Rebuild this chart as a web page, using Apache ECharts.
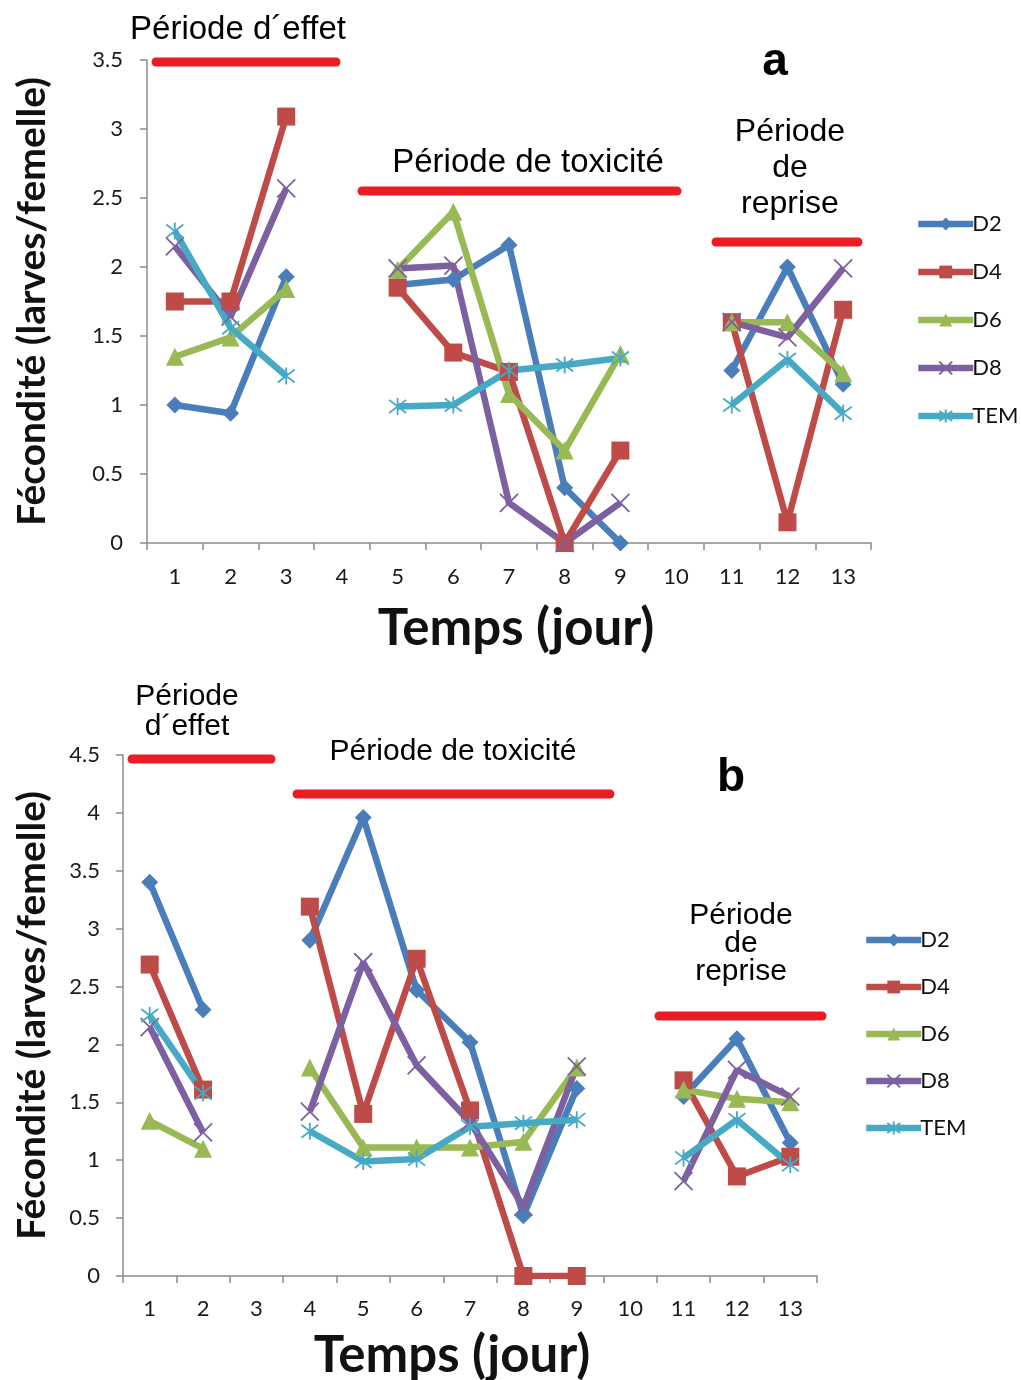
<!DOCTYPE html>
<html>
<head>
<meta charset="utf-8">
<script src="https://cdn.jsdelivr.net/npm/echarts@6/dist/echarts.min.js"></script>
<style>
html,body{margin:0;padding:0;background:#fff;}
#chart{width:1021px;height:1380px;}
</style>
</head>
<body>
<div id="chart"></div>
<script>
// ---- Data ----
const days = ['1','2','3','4','5','6','7','8','9','10','11','12','13'];
const seriesNames = ['D2','D4','D6','D8','TEM'];

// Panel a
const a_D2  = [1.00, 0.94, 1.93, null, 1.87, 1.91, 2.16, 0.40, 0.00, null, 1.25, 2.00, 1.15];
const a_D4  = [1.75, 1.75, 3.09, null, 1.85, 1.38, 1.24, 0.00, 0.67, null, 1.60, 0.15, 1.69];
const a_D6  = [1.35, 1.49, 1.84, null, 1.98, 2.40, 1.08, 0.67, 1.37, null, 1.60, 1.60, 1.23];
const a_D8  = [2.15, 1.64, 2.57, null, 1.99, 2.01, 0.29, 0.00, 0.29, null, 1.60, 1.49, 1.99];
const a_TEM = [2.26, 1.56, 1.21, null, 0.99, 1.00, 1.25, 1.29, 1.34, null, 1.00, 1.33, 0.94];

// Panel b
const b_D2  = [3.40, 2.30, null, 2.90, 3.96, 2.47, 2.02, 0.52, 1.62, null, 1.55, 2.05, 1.15];
const b_D4  = [2.69, 1.61, null, 3.19, 1.40, 2.74, 1.43, 0.00, 0.00, null, 1.69, 0.86, 1.03];
const b_D6  = [1.34, 1.10, null, 1.80, 1.11, 1.11, 1.11, 1.16, 1.80, null, 1.61, 1.53, 1.50];
const b_D8  = [2.15, 1.24, null, 1.42, 2.71, 1.82, 1.33, 0.60, 1.81, null, 0.82, 1.78, 1.55];
const b_TEM = [2.25, 1.58, null, 1.25, 0.99, 1.01, 1.29, 1.32, 1.35, null, 1.02, 1.35, 0.96];

const aData = [a_D2, a_D4, a_D6, a_D8, a_TEM];
const bData = [b_D2, b_D4, b_D6, b_D8, b_TEM];

// ---- Styles ----
const colors = ['#4a7ebb', '#be4b48', '#98b954', '#7d60a0', '#46aac5'];
const symbols = [
  'diamond',
  'rect',
  'triangle',
  'path://M0,0L10,10M10,0L0,10',
  'path://M0,0L10,10M10,0L0,10M5,-1.5L5,11.5'
];
const symbolSizes = [17, 18, 18, 18, 17];
const stroked = [false, false, false, true, true];
const LINE_W = 6.5;

const axisGray = '#8c8c8c';
const tickFont = 'Lato';
const red = '#ec1c24';

function makeSeries(dataArr, idx) {
  return dataArr.map((d, i) => ({
    name: seriesNames[i],
    type: 'line',
    xAxisIndex: idx,
    yAxisIndex: idx,
    data: d,
    connectNulls: false,
    symbol: symbols[i],
    symbolSize: symbolSizes[i],
    showAllSymbol: true,
    lineStyle: { color: colors[i], width: LINE_W },
    itemStyle: stroked[i]
      ? { color: colors[i], borderColor: colors[i], borderWidth: 1.8 }
      : { color: colors[i], borderWidth: 0 },
    silent: true,
    animation: false,
    z: 3
  }));
}

function xAxisCfg(gridIndex, nameGap, pad, margin) {
  return {
    type: 'category',
    gridIndex: gridIndex,
    data: days,
    boundaryGap: true,
    axisLine: { lineStyle: { color: axisGray, width: 1.5 } },
    axisTick: { show: true, length: 7, inside: false, lineStyle: { color: axisGray, width: 1.5 } },
    axisLabel: { color: '#1a1a1a', fontSize: 22, fontFamily: tickFont, margin: margin },
    splitLine: { show: false },
    name: 'Temps (jour)',
    nameLocation: 'middle',
    nameGap: nameGap,
    nameMoveOverlap: false,
    nameTextStyle: { fontSize: 51, fontWeight: 'bold', fontFamily: tickFont, color: '#111', padding: pad }
  };
}

function yAxisCfg(gridIndex, max, nameGap, margin) {
  return {
    type: 'value',
    gridIndex: gridIndex,
    min: 0,
    max: max,
    interval: 0.5,
    axisLine: { show: true, lineStyle: { color: axisGray, width: 1.5 } },
    axisTick: { show: true, length: 7, inside: false, lineStyle: { color: axisGray, width: 1.5 } },
    axisLabel: { color: '#1a1a1a', fontSize: 22, fontFamily: tickFont, margin: margin },
    splitLine: { show: false },
    name: 'Fécondité (larves/femelle)',
    nameLocation: 'middle',
    nameRotate: 90,
    nameGap: nameGap,
    nameMoveOverlap: false,
    nameTextStyle: { fontSize: 39, fontWeight: 'bold', fontFamily: tickFont, color: '#111' }
  };
}

function legendCfg(left, top, gap) {
  return {
    orient: 'vertical',
    left: left,
    top: top,
    itemWidth: 55,
    itemHeight: 16,
    itemGap: gap,
    data: seriesNames,
    selectedMode: false,
    lineStyle: { width: LINE_W },
    textStyle: { fontSize: 22, fontFamily: tickFont, color: '#111', padding: [0, 0, 0, -6] }
  };
}

const annoFont = 'Liberation Sans';
function txt(text, x, y, size, lh, bold) {
  return {
    type: 'text',
    style: {
      text: text,
      x: x, y: y,
      align: 'center',
      verticalAlign: 'middle',
      font: (bold ? 'bold ' : '') + size + 'px "' + annoFont + '"',
      lineHeight: lh,
      fill: '#000'
    },
    z: 10
  };
}
function bar(x1, x2, y) {
  return {
    type: 'line',
    shape: { x1: x1, y1: y, x2: x2, y2: y },
    style: { stroke: red, lineWidth: 9, lineCap: 'round' },
    z: 10
  };
}

const chart = echarts.init(document.getElementById('chart'), null, { renderer: 'canvas' });
chart.setOption({
  backgroundColor: '#ffffff',
  animation: false,
  grid: [
    { left: 147, top: 60, width: 724, height: 483, outerBoundsMode: 'none', containLabel: false },
    { left: 123, top: 755, width: 694, height: 521, outerBoundsMode: 'none', containLabel: false }
  ],
  xAxis: [xAxisCfg(0, 60, [0, 0, 0, 14], 23), xAxisCfg(1, 54, [0, 36, 0, 0], 22)],
  yAxis: [yAxisCfg(0, 3.5, 95, 24), yAxisCfg(1, 4.5, 71, 23)],
  legend: [legendCfg(910, 208, 26), legendCfg(858, 924, 25)],
  series: makeSeries(aData, 0).concat(makeSeries(bData, 1)),
  graphic: [
    // Panel a annotations
    txt('Période d´effet', 238, 30, 33, 36, false),
    bar(156, 336, 62),
    txt('Période de toxicité', 528, 163, 33, 36, false),
    bar(362, 677, 191),
    txt('Période\nde\nreprise', 790, 168, 32, 36, false),
    bar(716, 858, 242),
    txt('a', 775, 62, 46, 50, true),
    // Panel b annotations
    txt('Période\nd´effet', 187, 712, 30, 30, false),
    bar(132, 271, 759),
    txt('Période de toxicité', 453, 752, 30, 32, false),
    bar(297, 610, 794),
    txt('Période\nde\nreprise', 741, 944, 30, 28, false),
    bar(659, 822, 1016),
    txt('b', 731, 778, 46, 50, true)
  ]
});
</script>
</body>
</html>
